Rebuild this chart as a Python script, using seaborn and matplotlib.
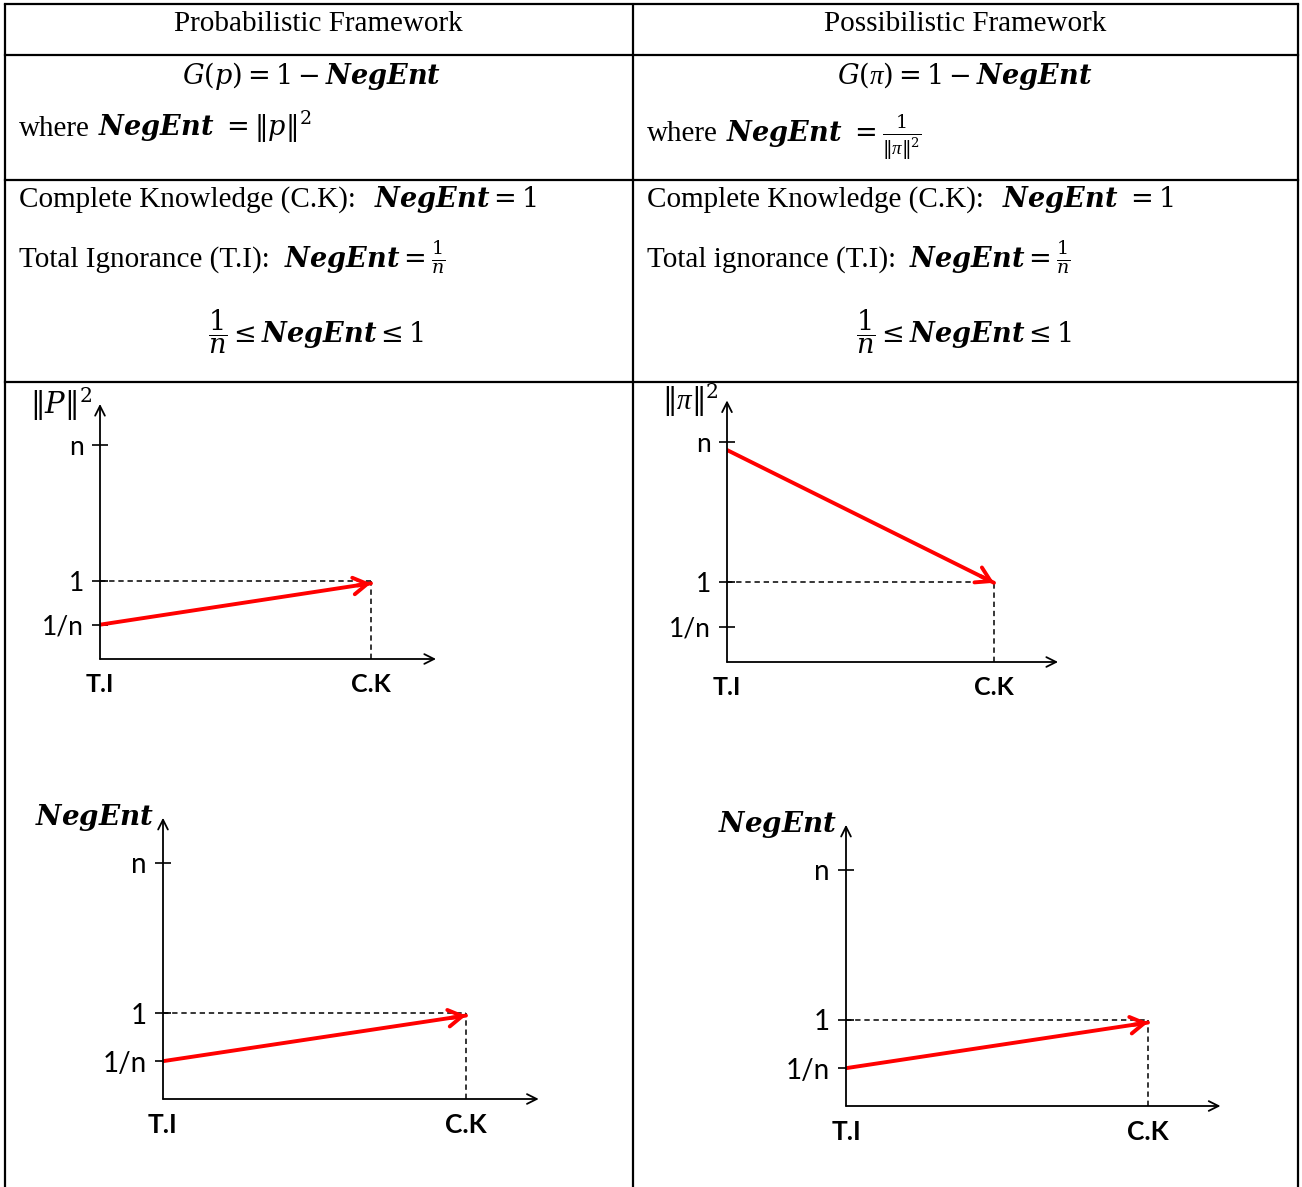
import matplotlib
matplotlib.use("Agg")
import matplotlib.pyplot as plt
import seaborn as sns

# ---- chart data ----
headers = ["Probabilistic Framework", "Possibilistic Framework"]
level_labels = ["1/n", "1", "n"]
level_values = [0.44, 1.0, 2.75]
axis_labels = ["T.I", "C.K"]
axis_values = [0, 1]
prob_norm = [0.44, 0.97]      # ||P||^2 going from T.I to C.K
poss_norm = [2.65, 0.99]      # ||pi||^2 going from T.I to C.K
prob_negent = [0.44, 0.97]
poss_negent = [0.44, 0.97]

sns.set_style("white")
plt.rcParams["mathtext.fontset"] = "custom"
plt.rcParams["mathtext.rm"] = "DejaVu Serif"
plt.rcParams["mathtext.it"] = "DejaVu Serif:italic"
plt.rcParams["mathtext.bf"] = "DejaVu Serif:bold"
plt.rcParams["mathtext.bfit"] = "DejaVu Serif:bold:italic"
plt.rcParams["mathtext.sf"] = "Liberation Serif:italic"   # used for a clean italic pi
plt.rcParams["font.family"] = ["Liberation Serif", "DejaVu Sans"]
for key in ["text.color", "xtick.color", "ytick.color", "axes.labelcolor"]:
    plt.rcParams[key] = "black"

W, H = 1302, 1187
fig = plt.figure(figsize=(W / 100, H / 100), dpi=100)

# table frame, in pixel coordinates
tab = fig.add_axes([0, 0, 1, 1])
tab.set_xlim(0, W)
tab.set_ylim(H, 0)
tab.axis("off")
lw_tab = 1.6
for y in [3.5, 54.5, 179.5, 381.5]:
    tab.plot([4.5, 1297.5], [y, y], color="black", lw=lw_tab, solid_capstyle="projecting")
for x in [4.5, 632.5, 1297.5]:
    tab.plot([x, x], [3.5, H], color="black", lw=lw_tab)

fs = 21
mfs = 19.5
PI = r"\mathsf{\pi}"
tab.text(318, 31, headers[0], ha="center", va="baseline", fontsize=fs)
tab.text(965, 31, headers[1], ha="center", va="baseline", fontsize=fs)

tab.text(312, 84, r"$G(p) = 1 - \mathbfit{NegEnt}$", ha="center", va="baseline", fontsize=mfs)
tab.text(965, 84, r"$G(" + PI + r") = 1 - \mathbfit{NegEnt}$", ha="center", va="baseline", fontsize=mfs)
tab.text(19, 136, "where", ha="left", va="baseline", fontsize=fs)
tab.text(98, 136, r"$\mathbfit{NegEnt}\ = \Vert p\Vert^2$", ha="left", va="baseline", fontsize=mfs)
tab.text(647, 141, "where", ha="left", va="baseline", fontsize=fs)
tab.text(726, 141, r"$\mathbfit{NegEnt}\ = \frac{1}{\Vert" + PI + r"\Vert^2}$", ha="left", va="baseline", fontsize=mfs)

tab.text(19, 207, "Complete Knowledge (C.K):", ha="left", va="baseline", fontsize=fs)
tab.text(374, 207, r"$\mathbfit{NegEnt} = 1$", ha="left", va="baseline", fontsize=mfs)
tab.text(647, 207, "Complete Knowledge (C.K):", ha="left", va="baseline", fontsize=fs)
tab.text(1002, 207, r"$\mathbfit{NegEnt}\ = 1$", ha="left", va="baseline", fontsize=mfs)
tab.text(19, 267, "Total Ignorance (T.I):", ha="left", va="baseline", fontsize=fs)
tab.text(284, 267, r"$\mathbfit{NegEnt} = \frac{1}{n}$", ha="left", va="baseline", fontsize=mfs)
tab.text(647, 267, "Total ignorance (T.I):", ha="left", va="baseline", fontsize=fs)
tab.text(909, 267, r"$\mathbfit{NegEnt} = \frac{1}{n}$", ha="left", va="baseline", fontsize=mfs)
tab.text(316, 343, r"$\dfrac{1}{n} \leq \mathbfit{NegEnt} \leq 1$", ha="center", va="baseline", fontsize=mfs)
tab.text(964, 343, r"$\dfrac{1}{n} \leq \mathbfit{NegEnt} \leq 1$", ha="center", va="baseline", fontsize=mfs)


def draw_panel(x0, y0, sx, sy, title, values, tsize, lsize):
    xmax, ymax = 1.24, 3.27
    ax = fig.add_axes([x0 / W, (H - y0) / H, sx * xmax / W, sy * ymax / H])
    ax.set_facecolor("none")
    for s in ax.spines.values():
        s.set_visible(False)
    ax.set_xlim(0, xmax)
    ax.set_ylim(0, ymax)

    # axes with open arrow heads
    arrow = dict(arrowstyle="->,head_length=0.7,head_width=0.35", lw=1.3,
                 color="black", shrinkA=0, shrinkB=0)
    ax.annotate("", xy=(0, 1), xytext=(0, 0), xycoords="axes fraction", arrowprops=arrow)
    ax.annotate("", xy=(1, 0), xytext=(0, 0), xycoords="axes fraction", arrowprops=arrow)

    ax.set_yticks(level_values, labels=level_labels)
    ax.set_xticks(axis_values, labels=axis_labels)
    ax.tick_params(axis="y", left=True, direction="inout", length=11, width=1.2, pad=6,
                   labelsize=lsize, labelfontfamily="Lato", colors="black")
    ax.tick_params(axis="x", bottom=False, length=0, pad=10, labelsize=lsize - 1,
                   labelfontfamily="Lato", colors="black")
    for t in ax.get_xticklabels():
        t.set_fontweight("bold")

    # dashed guides to the C.K point
    ax.plot([axis_values[0], axis_values[1]], [level_values[1], level_values[1]],
            color="black", lw=1.1, ls=(0, (3.5, 2.5)))
    ax.plot([axis_values[1], axis_values[1]], [0, level_values[1]],
            color="black", lw=1.1, ls=(0, (3.5, 2.5)))

    # red trend line with an open arrow head
    sns.lineplot(x=axis_values, y=values, ax=ax, color="red", lw=2.8)
    xe, ye = axis_values[1], values[1]
    xs = xe - 0.05 * (axis_values[1] - axis_values[0])
    ys = ye - 0.05 * (values[1] - values[0])
    ax.annotate("", xy=(xe, ye), xytext=(xs, ys),
                arrowprops=dict(arrowstyle="->,head_length=1.0,head_width=0.6",
                                lw=2.8, color="red", shrinkA=0, shrinkB=0))

    ax.text(-0.025, 1.0, title, transform=ax.transAxes, ha="right", va="center",
            fontsize=tsize)
    return ax


draw_panel(100, 659, 271, 78, r"$\Vert P\Vert^2$", prob_norm, 21, 19)
draw_panel(727, 662, 267, 80, r"$\Vert " + PI + r"\Vert^2$", poss_norm, 21, 19)
draw_panel(163, 1099, 303, 86, r"$\mathbfit{NegEnt}$", prob_negent, 20, 20)
draw_panel(846, 1106, 302, 86, r"$\mathbfit{NegEnt}$", poss_negent, 20, 20)

fig.savefig("out.png", dpi=100)
